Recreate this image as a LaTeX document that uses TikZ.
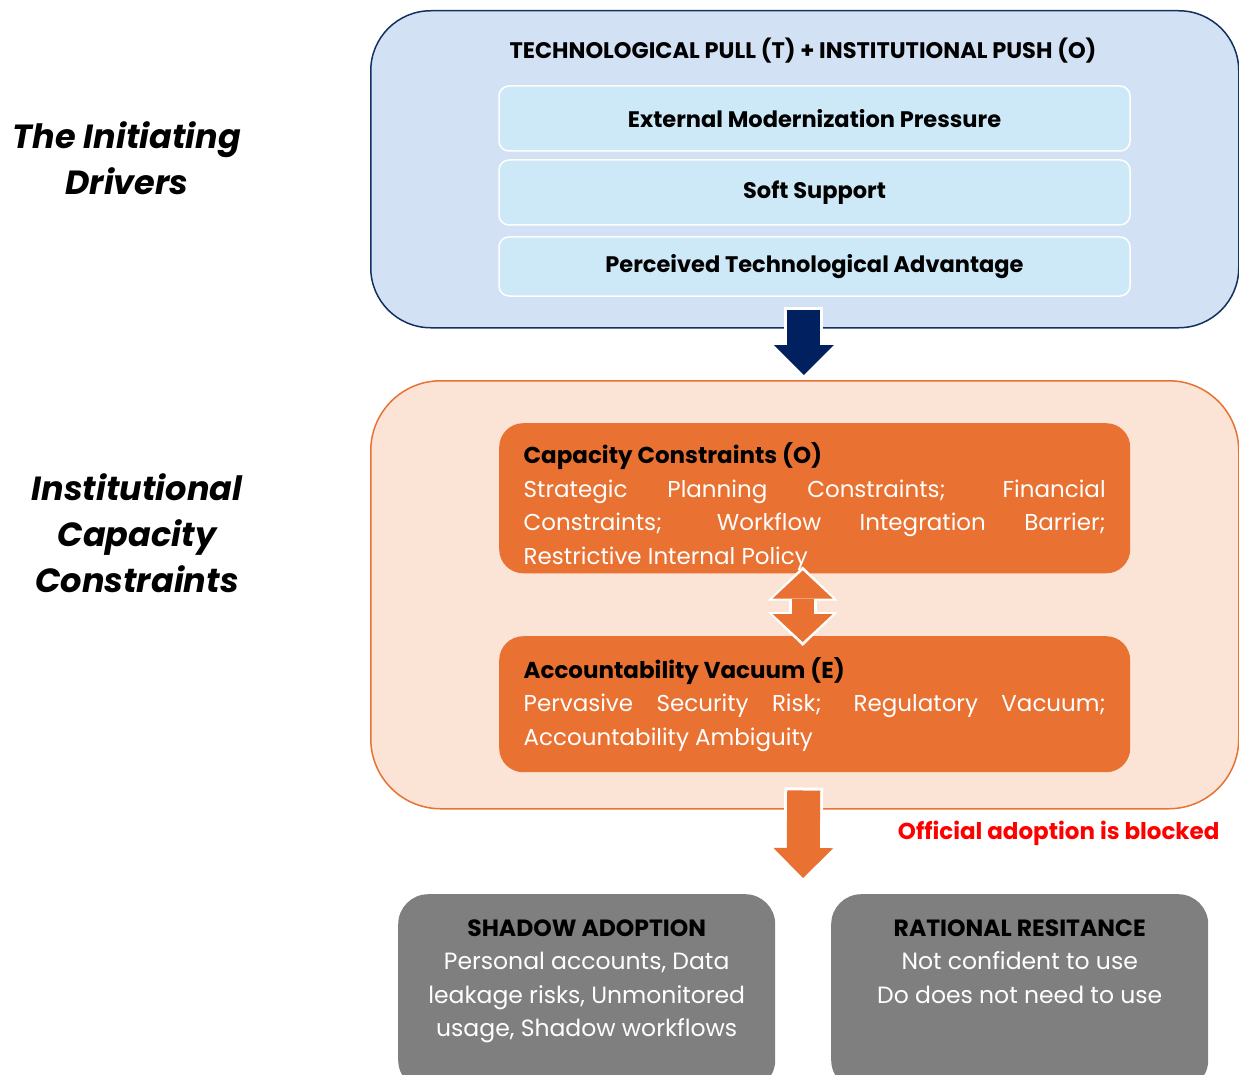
\documentclass[tikz,border=0pt]{standalone}
\usepackage{fontspec}
\setmainfont{Poppins}
\usepackage{xcolor}
\usetikzlibrary{arrows.meta}
\hyphenpenalty=10000
\exhyphenpenalty=10000

\definecolor{navyline}{HTML}{14305F}
\definecolor{bluefill}{HTML}{D2E2F4}
\definecolor{innerblue}{HTML}{CDE8F6}
\definecolor{navyarrow}{HTML}{002060}
\definecolor{orangeline}{HTML}{E97132}
\definecolor{orangefill}{HTML}{FBE3D6}
\definecolor{greybox}{HTML}{7F7F7F}
\definecolor{blockedred}{HTML}{FF0000}

\tikzset{
  sidelabel/.style={align=center, font=\fontsize{33.5}{46}\selectfont\bfseries\itshape},
  outerbox/.style={rectangle, anchor=north west, line width=1.5pt, minimum width=868pt},
  driverbox/.style={rectangle, rounded corners=10pt, fill=innerblue, draw=white, line width=1.5pt, minimum width=631pt, font=\fontsize{22.5}{26}\selectfont\bfseries},
  barrierbox/.style={rectangle, anchor=north west, rounded corners=24pt, fill=orangeline, text=white, minimum width=631pt, text width=582pt, inner xsep=24.5pt, align=justify, font=\fontsize{23}{33.5}\selectfont},
  outcomebox/.style={rectangle, anchor=north west, rounded corners=30pt, fill=greybox, minimum width=377pt, minimum height=196pt},
  outcometext/.style={anchor=north, align=center, text=white, font=\fontsize{23.5}{33.5}\selectfont},
  fatarrow/.style={line width=33pt, -{Triangle[length=30pt,width=60pt,line width=0pt]},
    preaction={draw=white, line width=39pt, shorten <=-3pt, shorten >=-4pt, -{Triangle[length=36pt,width=70pt,line width=0pt]}}},
  linkarrow/.style={line width=22pt, {Triangle[length=28pt,width=60pt,line width=0pt]}-{Triangle[length=28pt,width=60pt,line width=0pt]},
    preaction={draw=white, line width=28pt, shorten <=-4pt, shorten >=-4pt, {Triangle[length=34pt,width=70pt,line width=0pt]}-{Triangle[length=34pt,width=70pt,line width=0pt]}}},
}

\begin{document}
\begin{tikzpicture}[x=1pt,y=-1pt]
\clip (0,0) rectangle (1239,1075);

\node[sidelabel] (lbldrivers) at (127,158) {The Initiating\\Drivers};
\node[sidelabel] (lblbarriers) at (137,533) {Institutional\\Capacity\\Constraints};

\node[outerbox, draw=navyline, fill=bluefill, rounded corners=60pt, minimum height=317pt] (drivers) at (370,10) {};
\node[font=\fontsize{22.5}{26}\selectfont\bfseries] (pushpull) at (803,51) {TECHNOLOGICAL PULL (T) + INSTITUTIONAL PUSH (O)};
\node[driverbox, minimum height=65pt] (pressure) at (814.5,118.5) {External Modernization Pressure};
\node[driverbox, minimum height=65pt] (support) at (814.5,192.5) {Soft Support};
\node[driverbox, minimum height=59pt] (advantage) at (814.5,266.5) {Perceived Technological Advantage};

\node[outerbox, draw=orangeline, fill=orangefill, rounded corners=70pt, minimum height=428pt] (barriers) at (370,380) {};
\node[barrierbox, minimum height=150pt] (capacity) at (499,423) {\rule{0pt}{37pt}{\color{black}\bfseries Capacity Constraints (O)}\\Strategic Planning Constraints; Financial Constraints; Workflow Integration Barrier; Restrictive Internal Policy};
\node[barrierbox, minimum height=136pt] (vacuum) at (499,636) {{\color{black}\bfseries Accountability Vacuum (E)}\\Pervasive Security Risk; Regulatory Vacuum; Accountability Ambiguity};

\node[anchor=east, text=blockedred, font=\fontsize{23}{26}\selectfont\bfseries] (blocked) at (1223,833) {Official adoption is blocked};

\node[outcomebox] (shadow) at (398,894) {};
\node[outcometext] (shadowtext) at ([yshift=-22pt]shadow.north) {{\color{black}\bfseries SHADOW ADOPTION}\\Personal accounts, Data\\leakage risks, Unmonitored\\usage, Shadow workflows};
\node[outcomebox] (resist) at (831,894) {};
\node[outcometext] (resisttext) at ([yshift=-22pt]resist.north) {{\color{black}\bfseries RATIONAL RESITANCE}\\Not confident to use\\Do does not need to use};

\coordinate (outcomes) at (803,878);

\draw[fatarrow, navyarrow] ([xshift=-1pt,yshift=19pt]drivers.south) -- ([xshift=-1pt,yshift=5pt]barriers.north);
\draw[linkarrow, orangeline] ([xshift=-12pt,yshift=3pt]capacity.south) -- ([xshift=-12pt,yshift=-6pt]vacuum.north);
\draw[fatarrow, orangeline] ([xshift=-1pt,yshift=19pt]barriers.south) -- (outcomes);
\end{tikzpicture}
\end{document}
